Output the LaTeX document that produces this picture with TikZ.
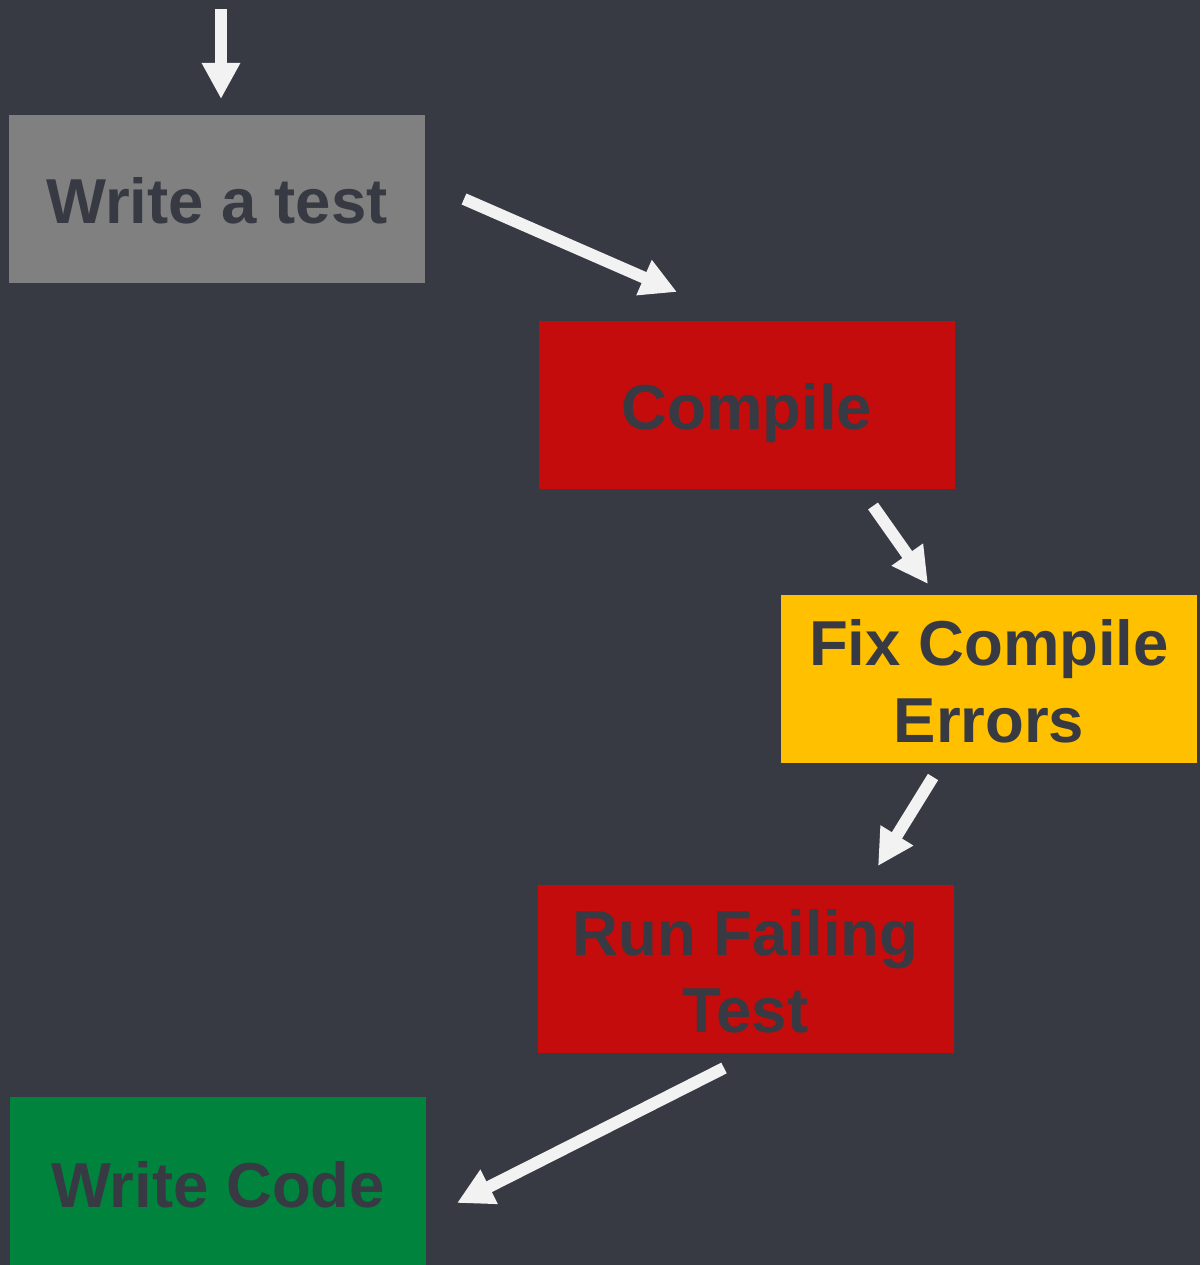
\documentclass[tikz,border=0pt]{standalone}
\usepackage{fontspec}
\setmainfont{Liberation Sans}
\usetikzlibrary{arrows.meta}
\definecolor{bg}{HTML}{373A42}
\definecolor{arr}{HTML}{F2F2F2}
\definecolor{grayb}{HTML}{808080}
\definecolor{redb}{HTML}{C40C0C}
\definecolor{yelb}{HTML}{FFC000}
\definecolor{grnb}{HTML}{00843D}
\tikzset{
  box/.style={minimum width=416pt, minimum height=168pt, inner sep=0pt},
  lbl/.style={text=bg, font=\fontsize{63.5}{77}\selectfont\bfseries, align=center, inner sep=0pt},
  flow/.style={draw=arr, line width=12pt, -{Triangle[length=36pt,width=36pt]}},
}
\begin{document}
\begin{tikzpicture}[x=1pt,y=-1pt]
\fill[bg] (0,0) rectangle (1200,1265);
\useasboundingbox (0,0) rectangle (1200,1265);
\node[box, fill=grayb] (write) at (217,199) {};
\node[lbl] (writet) at (217,201) {Write a test};
\node[box, fill=redb] (compile) at (747,405) {};
\node[lbl] (compilet) at (747,413) {Compile};
\node[box, fill=yelb] (fix) at (989,678.5) {};
\node[lbl] (fixt) at (989,681) {Fix Compile\\Errors};
\node[box, fill=redb] (run) at (745.5,968.5) {};
\node[lbl] (runt) at (745.5,971) {Run Failing\\Test};
\node[box, fill=grnb, anchor=north west] (code) at (10,1097) {};
\node[lbl] (codet) at (218,1185) {Write Code};
\coordinate (s0) at (221,9);
\coordinate (e0) at (221,99);
\coordinate (s1) at (464,199);
\coordinate (e1) at (677,292);
\coordinate (s2) at (873,506);
\coordinate (e2) at (928,584);
\coordinate (s3) at (933,777);
\coordinate (e3) at (878,866);
\coordinate (s4) at (724,1068);
\coordinate (e4) at (457,1203);
\draw[flow] (s0) -- (e0);
\draw[flow] (s1) -- (e1);
\draw[flow] (s2) -- (e2);
\draw[flow] (s3) -- (e3);
\draw[flow] (s4) -- (e4);
\end{tikzpicture}
\end{document}
